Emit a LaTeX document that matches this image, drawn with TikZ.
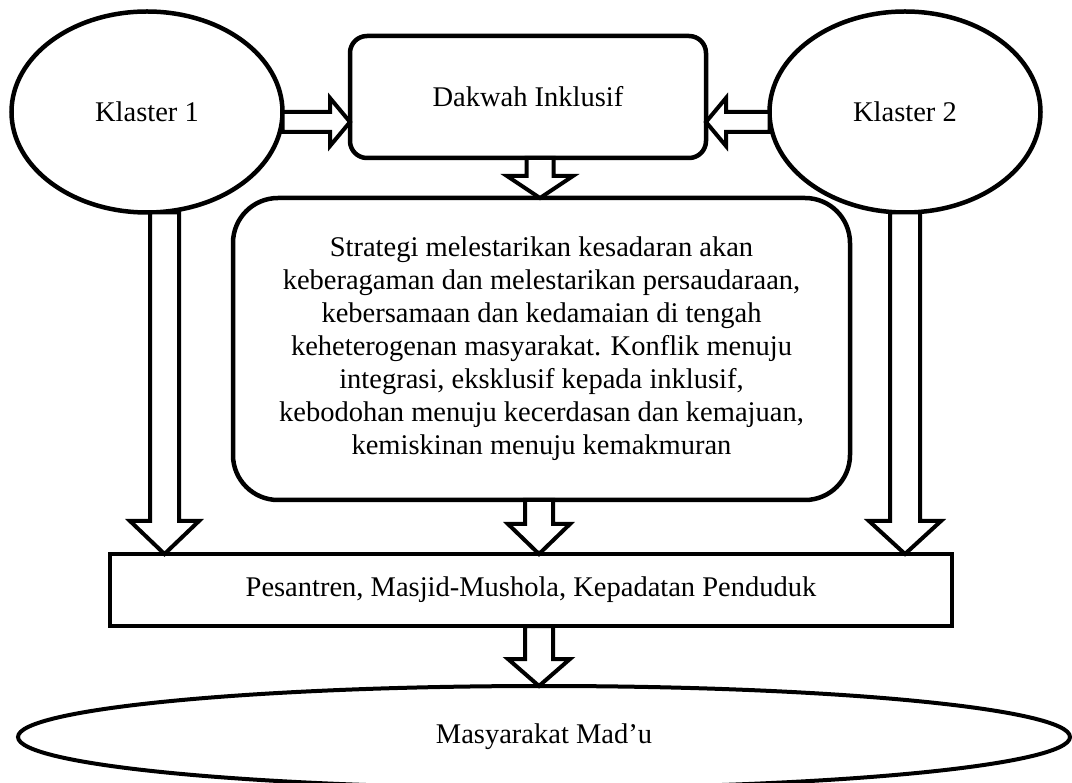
\documentclass[tikz,border=0pt]{standalone}
\usepackage{fontspec}
\setmainfont{Liberation Serif}
\usetikzlibrary{shapes.geometric,calc}
\tikzset{
  lbl/.style={font=\fontsize{28.5}{33}\selectfont, text=black},
  oval/.style={ellipse, draw, line width=4.5pt, fill=white, inner sep=0pt, outer sep=0pt, lbl},
  rbox/.style={rectangle, draw, line width=4.5pt, fill=white, inner sep=0pt, outer sep=0pt, lbl},
  blk/.style={draw, line width=4pt, fill=white, line join=miter},
}
% vertical block arrow: #1 x, #2 from node anchor, #3 to node anchor, #4 head length, #5 shaft half, #6 head half
\newcommand\blkdown[6]{%
  \draw[blk] let \p1=(#2), \p2=(#3), \p3=(#1,0) in
   (\x3-#5pt,\y1) -- (\x3-#5pt,\y2+#4pt) -- (\x3-#6pt,\y2+#4pt) -- (\x3,\y2)
   -- (\x3+#6pt,\y2+#4pt) -- (\x3+#5pt,\y2+#4pt) -- (\x3+#5pt,\y1) -- cycle;}
% horizontal block arrow pointing right: #1 y, #2 from, #3 to, #4 head length
\newcommand\blkright[4]{%
  \draw[blk] let \p1=(#2), \p2=(#3), \p3=(0,#1) in
   (\x1,\y3+10pt) -- (\x2-#4pt,\y3+10pt) -- (\x2-#4pt,\y3+24pt) -- (\x2,\y3)
   -- (\x2-#4pt,\y3-24pt) -- (\x2-#4pt,\y3-10pt) -- (\x1,\y3-10pt) -- cycle;}
% horizontal block arrow pointing left
\newcommand\blkleft[4]{%
  \draw[blk] let \p1=(#2), \p2=(#3), \p3=(0,#1) in
   (\x1,\y3+10pt) -- (\x2+#4pt,\y3+10pt) -- (\x2+#4pt,\y3+24pt) -- (\x2,\y3)
   -- (\x2+#4pt,\y3-24pt) -- (\x2+#4pt,\y3-10pt) -- (\x1,\y3-10pt) -- cycle;}
\begin{document}
\begin{tikzpicture}[x=1pt,y=-1pt]
\useasboundingbox[fill=white] (0,0) rectangle (1072,783);
\begin{scope}
\clip (0,0) rectangle (1072,783);
\node[oval, minimum width=271pt, minimum height=201pt] (K1) at (147,112) {Klaster 1};
\node[oval, minimum width=271pt, minimum height=201pt] (K2) at (905,112) {Klaster 2};
\node[rbox, rounded corners=17pt, minimum width=356pt, minimum height=122pt] (D) at (528,97) {Dakwah Inklusif};
\node[rbox, rounded corners=45pt, minimum width=617pt, minimum height=302pt, align=center] (S) at (541.5,349)
 {Strategi melestarikan kesadaran akan\\
  keberagaman dan melestarikan persaudaraan,\\
  kebersamaan dan kedamaian di tengah\\
  keheterogenan masyarakat. Konflik menuju\\
  integrasi, eksklusif kepada inklusif,\\
  kebodohan menuju kecerdasan dan kemajuan,\\
  kemiskinan menuju kemakmuran};
\node[rbox, minimum width=842pt, minimum height=72pt] (P) at (531,590) {Pesantren, Masjid-Mushola, Kepadatan Penduduk};
\node[oval, line width=4pt, minimum width=1052pt, minimum height=102pt] (M) at (544,737) {Masyarakat Mad’u};
\blkright{122}{K1.east}{D.west}{20}
\blkleft{122}{K2.west}{D.east}{20}
\blkdown{540}{D.south}{S.north}{22}{13.5}{33}
\blkdown{164.5}{K1.south}{P.north}{33}{14.5}{34.5}
\blkdown{905}{K2.south}{P.north}{33}{15}{36}
\blkdown{539}{S.south}{P.north}{30}{14}{31}
\blkdown{539}{P.south}{M.north}{27}{14}{31}
\end{scope}
\end{tikzpicture}
\end{document}
